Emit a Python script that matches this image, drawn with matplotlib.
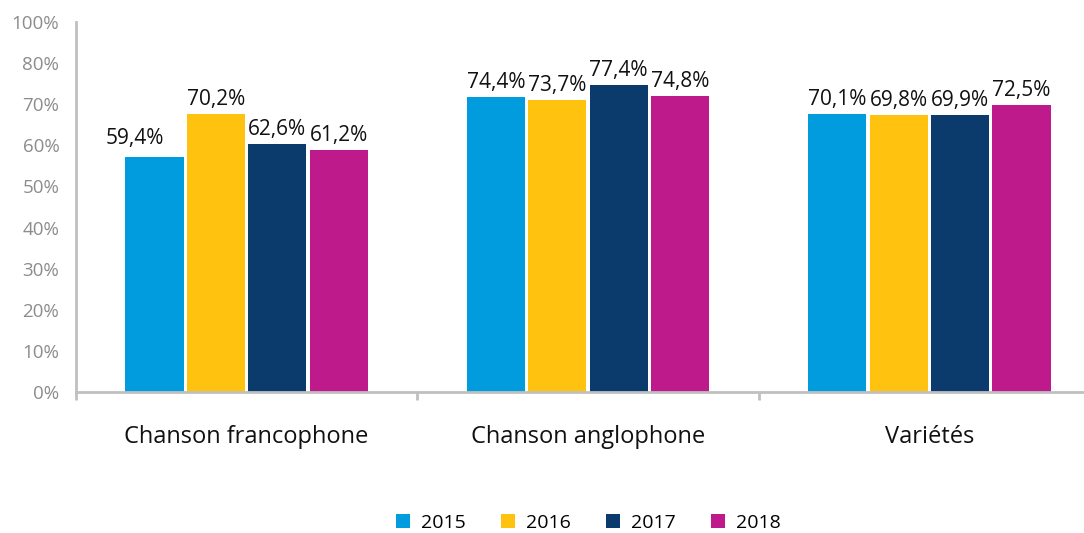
import matplotlib
matplotlib.use("Agg")
import matplotlib.pyplot as plt
import numpy as np
from matplotlib.patches import Patch

categories = ["Chanson francophone", "Chanson anglophone", "Variétés"]
years = ["2015", "2016", "2017", "2018"]
values = {
    "2015": [59.4, 74.4, 70.1],
    "2016": [70.2, 73.7, 69.8],
    "2017": [62.6, 77.4, 69.9],
    "2018": [61.2, 74.8, 72.5],
}
colors = ["#009CDE", "#FFC20E", "#0B3A6C", "#BE1A8C"]
ytick_labels = ["0%", "10%", "20%", "30%", "40%", "50%", "60%", "70%", "80%", "100%"]

plt.rcParams["font.family"] = ["Open Sans", "DejaVu Sans"]

fig = plt.figure(figsize=(10.84, 5.33), dpi=100)
ax = fig.add_axes([76 / 1084, (533 - 392) / 533, 1024 / 1084, 370 / 533])

ymax = 93.4
n = len(years)
slot = 0.18
bw = 0.17
x = np.arange(len(categories))
for i, (yr, c) in enumerate(zip(years, colors)):
    pos = x + (i - (n - 1) / 2) * slot
    bars = ax.bar(pos, values[yr], width=bw, color=c, label=yr, zorder=2)
    for j, (b, v) in enumerate(zip(bars, values[yr])):
        dx = -20 if (i == 0 and j == 0) else 0
        dy = 13 if (i == 0 and j == 0) else 9
        ax.annotate(f"{v:.1f}%".replace(".", ","),
                    (b.get_x() + b.get_width() / 2, v),
                    xytext=(dx * 0.72, dy * 0.72), textcoords="offset points",
                    ha="center", va="baseline", fontsize=15, color="#111111")

ax.set_xlim(-0.5, len(categories) - 0.5)
ax.set_ylim(0, ymax)
ax.set_yticks(np.linspace(0, ymax, len(ytick_labels)))
ax.set_yticklabels(ytick_labels)
ax.tick_params(axis="y", length=0, pad=12, labelsize=13.5, labelcolor="#8C8C8C")

ax.set_xticks(np.arange(len(categories) + 1) - 0.5)
ax.set_xticklabels([])
ax.set_xticks(x, minor=True)
ax.set_xticklabels(categories, minor=True)
ax.tick_params(axis="x", which="major", length=6, width=2, color="#C0C0C0")
ax.tick_params(axis="x", which="minor", length=0, pad=24, labelsize=17, labelcolor="#111111")

for s in ["top", "right"]:
    ax.spines[s].set_visible(False)
for s in ["left", "bottom"]:
    ax.spines[s].set_color("#C0C0C0")
    ax.spines[s].set_linewidth(2)

handles = [Patch(facecolor=c, edgecolor="none") for c in colors]
fig.legend(handles, years, loc="center", bbox_to_anchor=(0.543, 1 - 523 / 533),
           ncol=4, frameon=False, fontsize=14, handlelength=0.72, handleheight=0.72,
           handletextpad=0.57, columnspacing=1.8)

fig.savefig("out.png", dpi=100)
